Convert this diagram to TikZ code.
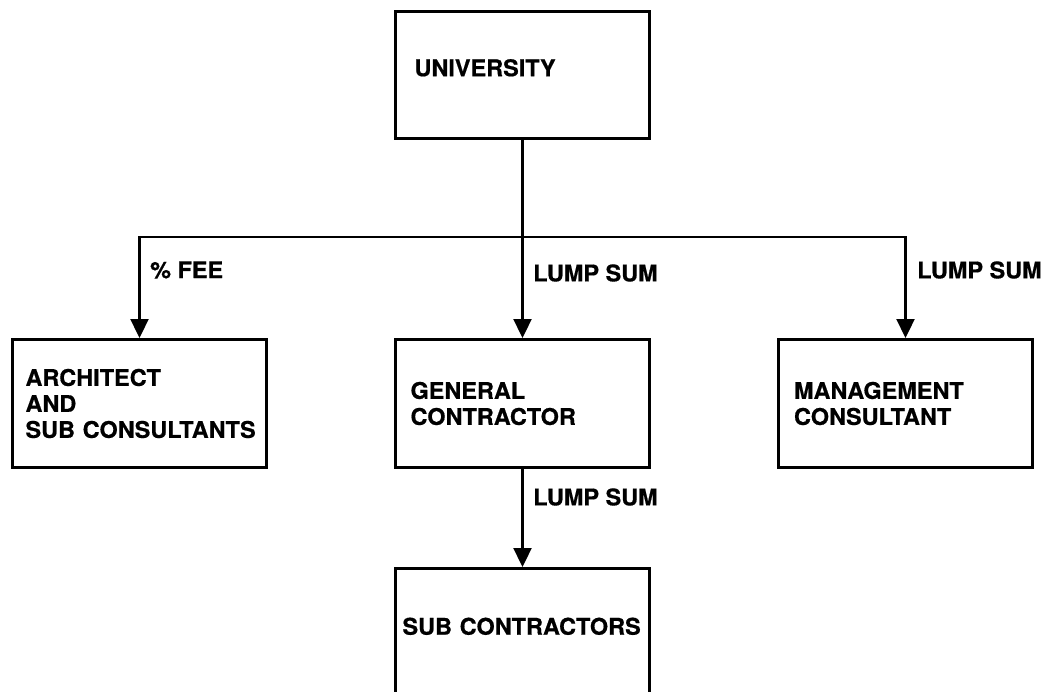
\documentclass[tikz,border=0pt]{standalone}
\usepackage{fontspec}
\setmainfont{TeX Gyre Heros}[BoldFeatures={FakeStretch=1.02,FakeBold=0.6}]
\usetikzlibrary{arrows.meta}
\begin{document}
\begin{tikzpicture}[x=1pt,y=-1pt,
  every node/.style={font=\fontsize{23}{26}\selectfont\bfseries},
  box/.style={draw, line width=3pt, anchor=north west, minimum width=254pt,
    minimum height=128pt, inner ysep=0pt, align=left},
  link/.style={line width=2.3pt},
  arrow/.style={link, -{Triangle[length=19pt,width=18pt]}},
  lbl/.style={anchor=west, inner sep=0pt}
]
\useasboundingbox (0,0) rectangle (1046,691);
\clip (0,0) rectangle (1046,691);

% organisation boxes (lines kept whole with \mbox)
\node[box, minimum height=127pt, inner xsep=19pt, text width=216pt,
      text height=17pt, text depth=14.6pt] (uni) at (394,10) {UNIVERSITY};
\node[box, inner xsep=13pt, text width=228pt] (arch) at (11,338)
  {ARCHITECT\\AND\\\mbox{SUB CONSULTANTS}};
\node[box, inner xsep=15pt, text width=224pt] (gc) at (394,338)
  {GENERAL\\CONTRACTOR};
\node[box, inner xsep=15pt, text width=223pt] (mgmt) at (777,338)
  {MANAGEMENT\\CONSULTANT};
\node[box, inner xsep=7pt, text width=240pt,
      text height=17pt, text depth=12.6pt] (sub) at (394,567)
  {\mbox{SUB CONTRACTORS}};

% contract links
\coordinate (bus) at (521,237);
\draw[arrow] (uni.south) -- (gc.north);
\draw[arrow] (bus) -| (arch.north);
\draw[arrow] (bus) -| (mgmt.north);
\draw[arrow] (gc.south) -- (sub.north);

% contract types
\node[lbl] (fee) at (150,270) {\% FEE};
\node[lbl] (lsgc) at (533,273) {LUMP SUM};
\node[lbl] (lsmc) at (917,270) {LUMP SUM};
\node[lbl] (lssub) at (533,497) {LUMP SUM};
\end{tikzpicture}
\end{document}
